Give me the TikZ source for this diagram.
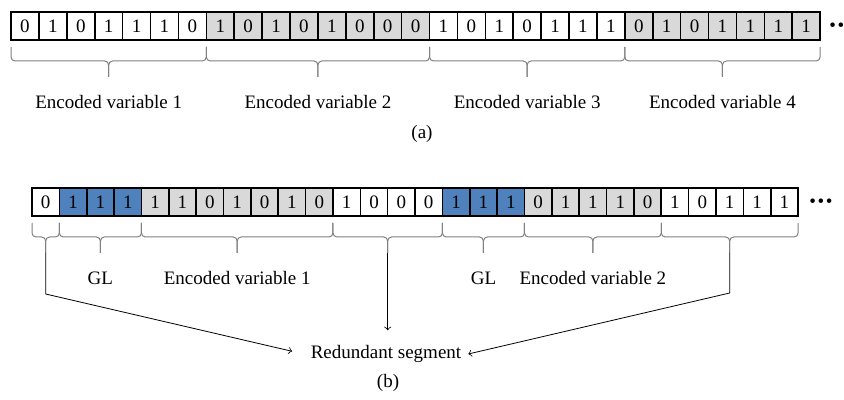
\documentclass[tikz,border=0pt]{standalone}
\usepackage{fontspec}
\setmainfont{Liberation Serif}
\usepackage{tikz}
\usetikzlibrary{positioning}
\usetikzlibrary{calc}
\usepackage{xcolor}
\definecolor{cellgray}{HTML}{D9D9D9}
\definecolor{cellblue}{HTML}{4F81BD}
\definecolor{bracegray}{HTML}{808080}
% brace under cells #1..#2, tip coordinate named #3
\newcommand{\grpbrace}[3]{%
  \coordinate (#3) at ($(#1.south west)!.5!(#2.south east)+(0,-18.5pt)$);
  \draw[brc] ([yshift=-3.5pt]#1.south west) |- ([yshift=8pt]#3) -- (#3);
  \draw[brc] ([yshift=-3.5pt]#2.south east) |- ([yshift=8pt]#3) -- (#3);
}

\begin{document}
\begin{tikzpicture}[x=0.5pt, y=-0.5pt, font=\fontsize{9.5}{11}\selectfont,
  cell/.style = {draw, line width=0.8pt, minimum height=14pt, inner sep=0pt, outer sep=0pt},
  brc/.style = {draw=bracegray, line width=0.5pt, rounded corners=2pt}]
\useasboundingbox (0,0) rectangle (844,400);
% (a)
\foreach \b/\c [count=\i] in {0/white,1/white,0/white,1/white,1/white,1/white,0/white,
  1/cellgray,0/cellgray,1/cellgray,0/cellgray,1/cellgray,0/cellgray,0/cellgray,0/cellgray,
  1/white,0/white,1/white,0/white,1/white,1/white,1/white,
  0/cellgray,1/cellgray,0/cellgray,1/cellgray,1/cellgray,1/cellgray,1/cellgray}
  \node[cell, minimum width=13.95pt, fill=\c] (a\i) at ({11+27.9*(\i-0.5)},26) {\b};
\draw[line width=1.2pt] (a1.north west) rectangle (a29.south east);
\grpbrace{a1}{a7}{s1}
\grpbrace{a8}{a15}{s2}
\grpbrace{a16}{a22}{s3}
\grpbrace{a23}{a29}{s4}
\node (v1) at ([yshift=-12.5pt]s1) {Encoded variable 1};
\node (v2) at ([yshift=-12.5pt]s2) {Encoded variable 2};
\node (v3) at ([yshift=-12.5pt]s3) {Encoded variable 3};
\node (v4) at ([yshift=-12.5pt]s4) {Encoded variable 4};
\node[inner sep=0pt, anchor=west] (d1) at (829,27) {•\kern.8pt•\kern.8pt•};
\node (ca) at (422,134) {(a)};
% (b)
\foreach \b/\c [count=\i] in {0/white,1/cellblue,1/cellblue,1/cellblue,
  1/cellgray,1/cellgray,0/cellgray,1/cellgray,0/cellgray,1/cellgray,0/cellgray,
  1/white,0/white,0/white,0/white,1/cellblue,1/cellblue,1/cellblue,
  0/cellgray,1/cellgray,1/cellgray,1/cellgray,0/cellgray,
  1/white,0/white,1/white,1/white,1/white}
  \node[cell, minimum width=13.68pt, fill=\c] (b\i) at ({32+27.36*(\i-0.5)},202) {\b};
\draw[line width=1.2pt] (b1.north west) rectangle (b28.south east);
\grpbrace{b1}{b1}{t1}
\grpbrace{b2}{b4}{t2}
\grpbrace{b5}{b11}{t3}
\grpbrace{b12}{b15}{t4}
\grpbrace{b16}{b18}{t5}
\grpbrace{b19}{b23}{t6}
\grpbrace{b24}{b28}{t7}
\node (g1) at ([yshift=-12.5pt]t2) {GL};
\node (e1) at ([yshift=-12.5pt]t3) {Encoded variable 1};
\node (g2) at ([yshift=-12.5pt]t5) {GL};
\node (e2) at ([yshift=-12.5pt]t6) {Encoded variable 2};
\node[inner sep=0pt, anchor=west] (d2) at (809,203) {•\kern.8pt•\kern.8pt•};
\node (r) at (386,354) {Redundant segment};
\draw[->, shorten >=6pt] (t1) -- ([yshift=-20.5pt]t1) -- (r.west);
\draw[->, shorten >=4pt] (t4) -- (t4 |- r.north);
\draw[->] (t7) -- ([yshift=-20pt]t7) -- (r.east);
\node (cb) at (388,383) {(b)};
\end{tikzpicture}
\end{document}
